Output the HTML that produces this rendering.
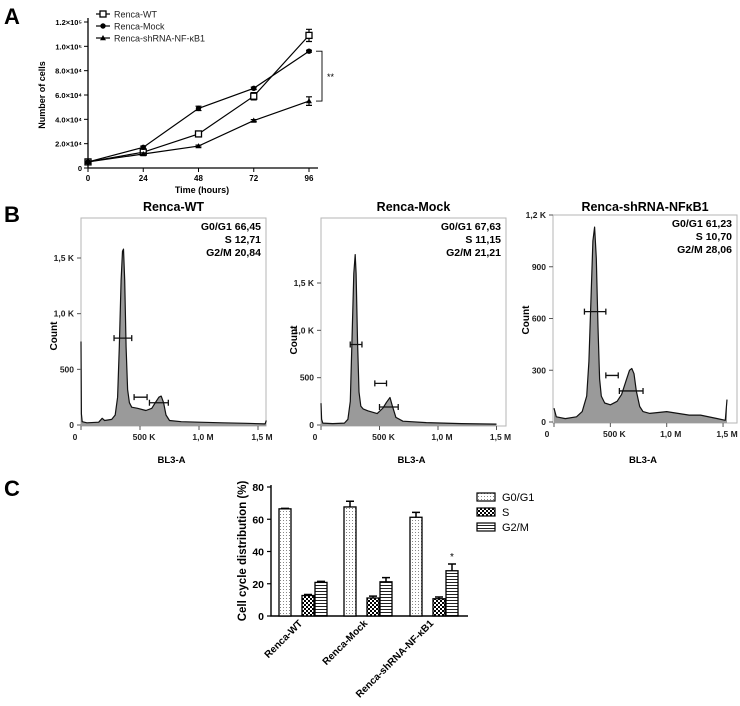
<!DOCTYPE html>
<html><head><meta charset="utf-8"><style>
html,body{margin:0;padding:0;background:#fff;}
svg{display:block;font-family:"Liberation Sans",Arial,sans-serif;}
</style></head><body>
<svg id="fig" width="740" height="706" viewBox="0 0 740 706">
<text x="4" y="24" font-size="22" font-weight="bold">A</text>
<text x="4" y="222" font-size="22" font-weight="bold">B</text>
<text x="4" y="496" font-size="22" font-weight="bold">C</text>
<g id="pa"></g>
<g id="pb"></g>
<g id="pc"></g>
</svg>
<script>
// ===== Panel A data =====
const timeCats = [0, 24, 48, 72, 96];
const wtVals = [5000, 13000, 28000, 59000, 109000];
const wtErr = [500, 1500, 1000, 3000, 5000];
const mockVals = [5000, 17000, 49000, 65500, 96000];
const mockErr = [500, 1000, 1800, 1000, 800];
const shVals = [5000, 11500, 18000, 39000, 55000];
const shErr = [500, 1000, 800, 800, 3500];
const aYTicks = ["0","2.0×10⁴","4.0×10⁴","6.0×10⁴","8.0×10⁴","1.0×10⁵","1.2×10⁵"];
const aYTickVals = [0,20000,40000,60000,80000,100000,120000];

// ===== Panel B data (channel in K, count) =====
const wtHistX = [0,3,10,50,150,180,200,260,290,310,325,340,352,360,370,382,395,410,430,480,550,600,630,660,680,700,720,750,850,1000,1200,1400,1560,1570];
const wtHistY = [750,100,30,20,25,60,40,50,90,250,700,1300,1560,1580,1300,700,320,200,160,150,130,150,200,250,260,200,90,40,30,25,20,15,10,40];
const mockHistX = [0,5,15,100,200,230,250,265,280,292,300,312,325,340,360,400,480,530,560,590,610,640,700,900,1200,1500];
const mockHistY = [230,60,20,15,20,60,250,900,1600,1800,1600,900,350,200,170,150,120,180,240,290,200,80,40,25,15,10];
const shHistX = [0,20,100,200,250,290,310,330,345,360,375,390,405,420,450,500,560,600,640,670,690,710,730,760,790,850,1000,1050,1200,1300,1450,1520,1535];
const shHistY = [80,30,20,30,60,150,350,750,1050,1130,950,550,250,150,110,100,120,160,240,300,310,280,180,90,60,50,60,55,40,40,20,10,130];
const histTitles = ["Renca-WT","Renca-Mock","Renca-shRNA-NFκB1"];
const histStats = [["G0/G1 66,45","S 12,71","G2/M 20,84"],["G0/G1 67,63","S 11,15","G2/M 21,21"],["G0/G1 61,23","S 10,70","G2/M 28,06"]];
const wtGates = [[280,430,780],[450,560,250],[580,740,200]];
const mockGates = [[250,350,850],[460,560,440],[500,660,190]];
const shGates = [[270,460,640],[460,570,270],[580,790,180]];
const histXTicks = ["0","500 K","1,0 M","1,5 M"];
const histXTickVals = [0,500,1000,1500];
const wtYTicks = ["0","500","1,0 K","1,5 K"];
const wtYTickVals = [0,500,1000,1500];
const shYTicks = ["0","300","600","900","1,2 K"];
const shYTickVals = [0,300,600,900,1200];

// ===== Panel C data =====
const groupCats = ["Renca-WT","Renca-Mock","Renca-shRNA-NF-κB1"];
const g0Vals = [66.45, 67.63, 61.23];
const g0Err = [0.3, 3.5, 3];
const sVals = [12.71, 11.15, 10.7];
const sErr = [0.6, 1.2, 1.1];
const g2Vals = [20.84, 21.21, 28.06];
const g2Err = [0.6, 2.6, 4.2];
const cYTicks = ["0","20","40","60","80"];
const cYTickVals = [0,20,40,60,80];

const NS = "http://www.w3.org/2000/svg";
function mk(parent, tag, attrs, text){
  const e = document.createElementNS(NS, tag);
  for (const k in attrs) e.setAttribute(k, attrs[k]);
  if (text !== undefined) e.textContent = text;
  parent.appendChild(e);
  return e;
}

// ===== Panel A =====
(function(){
  const g = document.getElementById('pa');
  const x = t => 88 + t * (309 - 88) / 96;
  const y = v => 168 - v * (168 - 22) / 120000;
  const ax = mk(g,'path',{d:`M88,18 V168 H318`,stroke:'#000','stroke-width':1.3,fill:'none'});
   
  aYTickVals.forEach((v,i)=>{
    mk(g,'line',{x1:84,x2:88,y1:y(v),y2:y(v),stroke:'#000'});
    const t = mk(g,'text',{x:82,y:y(v)+3,'font-size':7.5,'font-weight':'bold','text-anchor':'end'},aYTicks[i]);
     
  });
  timeCats.forEach(c=>{
    mk(g,'line',{x1:x(c),x2:x(c),y1:168,y2:172,stroke:'#000'});
    const t = mk(g,'text',{x:x(c),y:181,'font-size':8,'font-weight':'bold','text-anchor':'middle'},String(c));
     
  });
  const xt = mk(g,'text',{x:202,y:193,'font-size':9,'font-weight':'bold','text-anchor':'middle'},'Time (hours)');
   
  const yt = mk(g,'text',{x:0,y:0,'font-size':9,'font-weight':'bold','text-anchor':'middle',transform:'translate(45,95) rotate(-90)'},'Number of cells');
   
  const series = [[wtVals,wtErr,'sq','Renca-WT'],[mockVals,mockErr,'ci','Renca-Mock'],[shVals,shErr,'tr','Renca-shRNA-NF-κB1']];
  function marker(parent,cx,cy,type){
    let m;
    if(type==='sq') m = mk(parent,'rect',{x:cx-3,y:cy-3,width:6,height:6,fill:'#fff',stroke:'#000','stroke-width':1.3});
    else if(type==='ci') m = mk(parent,'circle',{cx:cx,cy:cy,r:2.7,fill:'#000'});
    else m = mk(parent,'path',{d:`M${cx},${cy-3}L${cx+3},${cy+2.2}L${cx-3},${cy+2.2}Z`,fill:'#000'});
    return m;
  }
  series.forEach((s,si)=>{
    const sg = mk(g,'g',{});
    
    
    mk(sg,'polyline',{points:timeCats.map((c,i)=>x(c)+','+y(s[0][i])).join(' '),fill:'none',stroke:'#000','stroke-width':1.2});
    timeCats.forEach((c,i)=>{
      const e1=y(s[0][i]+s[1][i]), e2=y(s[0][i]-s[1][i]);
      mk(sg,'path',{d:`M${x(c)},${e1}V${e2}M${x(c)-3},${e1}h6M${x(c)-3},${e2}h6`,stroke:'#000','stroke-width':1.2});
      const m = marker(sg,x(c),y(s[0][i]),s[2]);
       
    });
    const ly = 14 + si*12;
    const lg = mk(g,'g',{});
     
    mk(lg,'line',{x1:96,x2:110,y1:ly,y2:ly,stroke:'#000','stroke-width':1.2});
    marker(lg,103,ly,s[2]);
    mk(lg,'text',{x:114,y:ly+3.5,'font-size':9,fill:'#222'},s[3]);
  });
  const br = mk(g,'path',{d:`M316,${y(96000)}H322V${y(55000)}H316`,stroke:'#000',fill:'none','stroke-width':0.9});
   
  const st = mk(g,'text',{x:327,y:y(75500)+4,'font-size':9},'**');
   
})();

// ===== Panel B =====
(function(){
  const g = document.getElementById('pb');
  const panels = [
    {hx:wtHistX,hy:wtHistY,gates:wtGates,left:81,right:266,top:218,x0:81,pxPerK:0.118,y0:425,yTop:258,yTopVal:1500,yt:wtYTicks,ytv:wtYTickVals,countY:336},
    {hx:mockHistX,hy:mockHistY,gates:mockGates,left:321,right:506,top:218,x0:321,pxPerK:0.117,y0:425,yTop:283,yTopVal:1500,yt:wtYTicks,ytv:wtYTickVals,countY:340},
    {hx:shHistX,hy:shHistY,gates:shGates,left:553,right:737,top:215,x0:554,pxPerK:0.1127,y0:422,yTop:215,yTopVal:1200,yt:shYTicks,ytv:shYTickVals,countY:320}
  ];
  panels.forEach((p,pi)=>{
    const pg = mk(g,'g',{});
    
    
    const x = v => p.x0 + v*p.pxPerK;
    const y = v => p.y0 - v*(p.y0-p.yTop)/p.yTopVal;
    const base = p.y0 + 1;
    mk(pg,'rect',{x:p.left,y:p.top,width:p.right-p.left,height:base-p.top,fill:'#fff',stroke:'#b5b5b5','stroke-width':1});
    const pts = p.hx.map((v,i)=>x(v).toFixed(1)+','+y(p.hy[i]).toFixed(1)).join(' L');
    const area = mk(pg,'path',{d:`M${x(p.hx[0])},${base} L${pts} L${x(p.hx[p.hx.length-1])},${base} Z`,fill:'#9a9a9a',stroke:'none'});
     
    mk(pg,'path',{d:`M${pts}`,fill:'none',stroke:'#111','stroke-width':1.2,'stroke-linejoin':'round'});
    p.gates.forEach(gt=>{
      const gy=y(gt[2]);
      const ge = mk(pg,'path',{d:`M${x(gt[0])},${gy}H${x(gt[1])}M${x(gt[0])},${gy-3}v6M${x(gt[1])},${gy-3}v6`,stroke:'#111','stroke-width':1.3});
       
    });
    p.ytv.forEach((v,i)=>{
      mk(pg,'line',{x1:p.left-4,x2:p.left,y1:y(v),y2:y(v),stroke:'#555'});
      const t = mk(pg,'text',{x:p.left-7,y:y(v)+3,'font-size':8.5,'font-weight':'bold','text-anchor':'end',fill:'#222'},p.yt[i]);
       
    });
    histXTickVals.forEach((v,i)=>{
      mk(pg,'line',{x1:x(v),x2:x(v),y1:base,y2:base+4,stroke:'#555'});
      const t = mk(pg,'text',{x:(v===0?p.left-6:x(v)+4),y:base+14,'font-size':8.5,'font-weight':'bold','text-anchor':'middle',fill:'#222'},histXTicks[i]);
       
    });
    const cx = (p.left+p.right)/2;
    const tt = mk(pg,'text',{x:cx,y:211,'font-size':12.5,'font-weight':'bold','text-anchor':'middle'},histTitles[pi]);
     
    const xl = mk(pg,'text',{x:cx-2,y:463,'font-size':9.5,'font-weight':'bold','text-anchor':'middle'},'BL3-A');
     
    const yl = mk(pg,'text',{x:0,y:0,'font-size':10,'font-weight':'bold','text-anchor':'middle',transform:`translate(${p.left-24},${p.countY}) rotate(-90)`},'Count');
     
    histStats[pi].forEach((s,i)=>{
      const t = mk(pg,'text',{x:p.right-5,y:p.top+12+i*13,'font-size':10.5,'font-weight':'bold','text-anchor':'end'},s);
       
    });
  });
})();

// ===== Panel C =====
(function(){
  const g = document.getElementById('pc');
  const y = v => 616 - v*(616-487)/80;
  const groupLeft = [279, 344, 410];
  const offs = [0, 23, 36];
  const bw = 12;
  mk(g,'path',{d:`M271,485V616H468`,stroke:'#000','stroke-width':1.4,fill:'none'});
  const defs = mk(g,'defs',{});
  const p1 = mk(defs,'pattern',{id:'dots',width:3,height:3,patternUnits:'userSpaceOnUse'});
  mk(p1,'rect',{width:3,height:3,fill:'#fff'}); mk(p1,'rect',{x:1,y:1,width:1,height:1,fill:'#888'});
  const p2 = mk(defs,'pattern',{id:'check',width:4,height:4,patternUnits:'userSpaceOnUse'});
  mk(p2,'rect',{width:4,height:4,fill:'#fff'}); mk(p2,'rect',{width:2,height:2,fill:'#000'}); mk(p2,'rect',{x:2,y:2,width:2,height:2,fill:'#000'});
  const p3 = mk(defs,'pattern',{id:'hlines',width:4,height:3,patternUnits:'userSpaceOnUse'});
  mk(p3,'rect',{width:4,height:3,fill:'#fff'}); mk(p3,'rect',{width:4,height:1,fill:'#222'});
  const fills = ['url(#dots)','url(#check)','url(#hlines)'];
  const series = [[g0Vals,g0Err,'g0-g1'],[sVals,sErr,'s'],[g2Vals,g2Err,'g2-m']];
  cYTickVals.forEach((v,i)=>{
    mk(g,'line',{x1:267,x2:271,y1:y(v),y2:y(v),stroke:'#000','stroke-width':1.2});
    const t = mk(g,'text',{x:264,y:y(v)+4,'font-size':10.5,'font-weight':'bold','text-anchor':'end'},cYTicks[i]);
     
  });
  groupCats.forEach((c,gi)=>{
    series.forEach((s,si)=>{
      const bx = groupLeft[gi]+offs[si];
      const v = s[0][gi], e = s[1][gi];
      const cx = bx+bw/2;
      mk(g,'path',{d:`M${cx},${y(v)}V${y(v+e)}M${cx-4},${y(v+e)}h8`,stroke:'#000','stroke-width':1.5});
      const b = mk(g,'rect',{x:bx,y:y(v),width:bw,height:616-y(v),fill:fills[si],stroke:'#000','stroke-width':1.3});
       
    });
    const tx = groupLeft[gi]+24;
    const t = mk(g,'text',{x:0,y:0,'font-size':10,'font-weight':'bold','text-anchor':'end',transform:`translate(${tx},624) rotate(-45)`},c);
     
  });
  const star = mk(g,'text',{x:groupLeft[2]+offs[2]+bw/2,y:y(g2Vals[2]+g2Err[2])-4,'font-size':10,'text-anchor':'middle'},'*');
   
  const yt = mk(g,'text',{x:0,y:0,'font-size':11.5,'font-weight':'bold','text-anchor':'middle',transform:'translate(246,551) rotate(-90)'},'Cell cycle distribution (%)');
   
  ['G0/G1','S','G2/M'].forEach((n,i)=>{
    const lg = mk(g,'g',{});
     
    const ly = 497 + i*15;
    mk(lg,'rect',{x:477,y:ly-4,width:18,height:8,fill:fills[i],stroke:'#000','stroke-width':1.2});
    mk(lg,'text',{x:502,y:ly+4,'font-size':11},n);
  });
})();
</script>
</body></html>
